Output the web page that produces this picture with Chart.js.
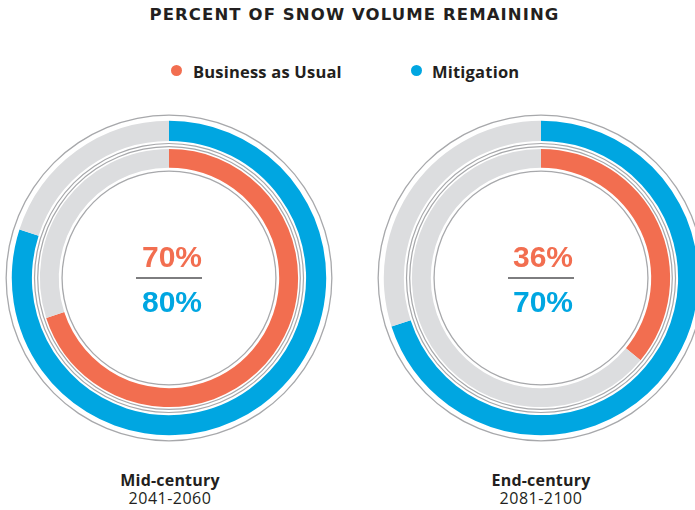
<!DOCTYPE html>
<html>
<head>
<meta charset="utf-8">
<script src="https://cdn.jsdelivr.net/npm/chart.js@4/dist/chart.umd.min.js"></script>
<style>
  html, body { margin: 0; padding: 0; background: #fff; width: 695px; height: 510px; overflow: hidden; }
  body { position: relative; font-family: "Open Sans", "DejaVu Sans", sans-serif; color: #231f20; }
  .title { position: absolute; left: 0; width: 709px; top: 5px; text-align: center; font-family: "DejaVu Sans", sans-serif; font-weight: 700; font-size: 16.5px; letter-spacing: 1.1px; color: #231f20; }
  .legend { position: absolute; top: 60px; font-weight: 700; font-size: 16.5px; letter-spacing: 0.2px; color: #231f20; }
  .dot { position: absolute; top: 65px; width: 11px; height: 11px; border-radius: 50%; }
  canvas { position: absolute; }
  .center { position: absolute; width: 120px; text-align: center; font-family: "Liberation Sans", Arial, sans-serif; font-weight: 700; font-size: 30px; line-height: 30px; }
  .rule { position: absolute; height: 2px; background: #7d7d7f; }
  .lab { position: absolute; width: 200px; text-align: center; font-size: 16px; line-height: 18px; letter-spacing: 0.5px; }
  .lab b { font-weight: 700; letter-spacing: 0.2px; }
</style>
</head>
<body>
<div class="title">PERCENT OF SNOW VOLUME REMAINING</div>
<div class="dot" style="left:171px;background:#f26e50"></div>
<div class="legend" style="left:193px">Business as Usual</div>
<div class="dot" style="left:411px;background:#00a6e1"></div>
<div class="legend" style="left:432px">Mitigation</div>

<canvas id="c0" width="340" height="340" style="left:-1px;top:108px"></canvas>
<canvas id="c1" width="340" height="340" style="left:371px;top:108px"></canvas>

<div id="t0a" class="center" style="left:112px;top:242px;color:#f26e50"></div>
<div class="rule" style="left:136px;top:277px;width:66px"></div>
<div id="t0b" class="center" style="left:112px;top:287px;color:#00a6e1"></div>

<div id="t1a" class="center" style="left:483px;top:242px;color:#f26e50"></div>
<div class="rule" style="left:508px;top:277px;width:66px"></div>
<div id="t1b" class="center" style="left:483px;top:287px;color:#00a6e1"></div>

<div id="l0" class="lab" style="left:70px;top:471px"></div>
<div id="l1" class="lab" style="left:441px;top:471px"></div>

<script>
// ---- data ----
const periods = ["Mid-century", "End-century"];
const periodYears = ["2041-2060", "2081-2100"];
const businessAsUsual = [70, 36];   // % snow volume remaining
const mitigation = [80, 70];        // % snow volume remaining
const seriesNames = ["Business as Usual", "Mitigation"];

// ---- style ----
const BLUE = "#00a6e1", ORANGE = "#f26e50", GREY = "#dcdddf", LINE = "#a7a8ab";
const OUTER_R = 163.5, INNER_R = 106.3;

function ring(data, colors, weight) {
  return { data: data, backgroundColor: colors, borderWidth: 0, weight: weight, hoverOffset: 0 };
}

periods.forEach((p, i) => {
  const datasets = [
    ring([100], [LINE], 1.3),
    ring([100], ["rgba(0,0,0,0)"], 5.0),
    ring([mitigation[i], 100 - mitigation[i]], [BLUE, GREY], 20.2),
    ring([100], ["rgba(0,0,0,0)"], 2.0),
    ring([100], [LINE], 1.2),
    ring([100], ["rgba(0,0,0,0)"], 2.0),
    ring([100], [LINE], 1.2),
    ring([100], ["rgba(0,0,0,0)"], 1.6),
    ring([businessAsUsual[i], 100 - businessAsUsual[i]], [ORANGE, GREY], 19.0),
    ring([100], ["rgba(0,0,0,0)"], 2.6),
    ring([100], [LINE], 1.3)
  ];
  new Chart(document.getElementById("c" + i), {
    type: "doughnut",
    data: { labels: seriesNames, datasets: datasets },
    options: {
      responsive: false,
      animation: false,
      events: [],
      radius: OUTER_R,
      cutout: (INNER_R / OUTER_R * 100) + "%",
      layout: { padding: 0 },
      plugins: { legend: { display: false }, tooltip: { enabled: false } }
    }
  });
  document.getElementById("t" + i + "a").textContent = businessAsUsual[i] + "%";
  document.getElementById("t" + i + "b").textContent = mitigation[i] + "%";
  document.getElementById("l" + i).innerHTML = "<b>" + p + "</b><br>" + periodYears[i];
});
</script>
</body>
</html>
